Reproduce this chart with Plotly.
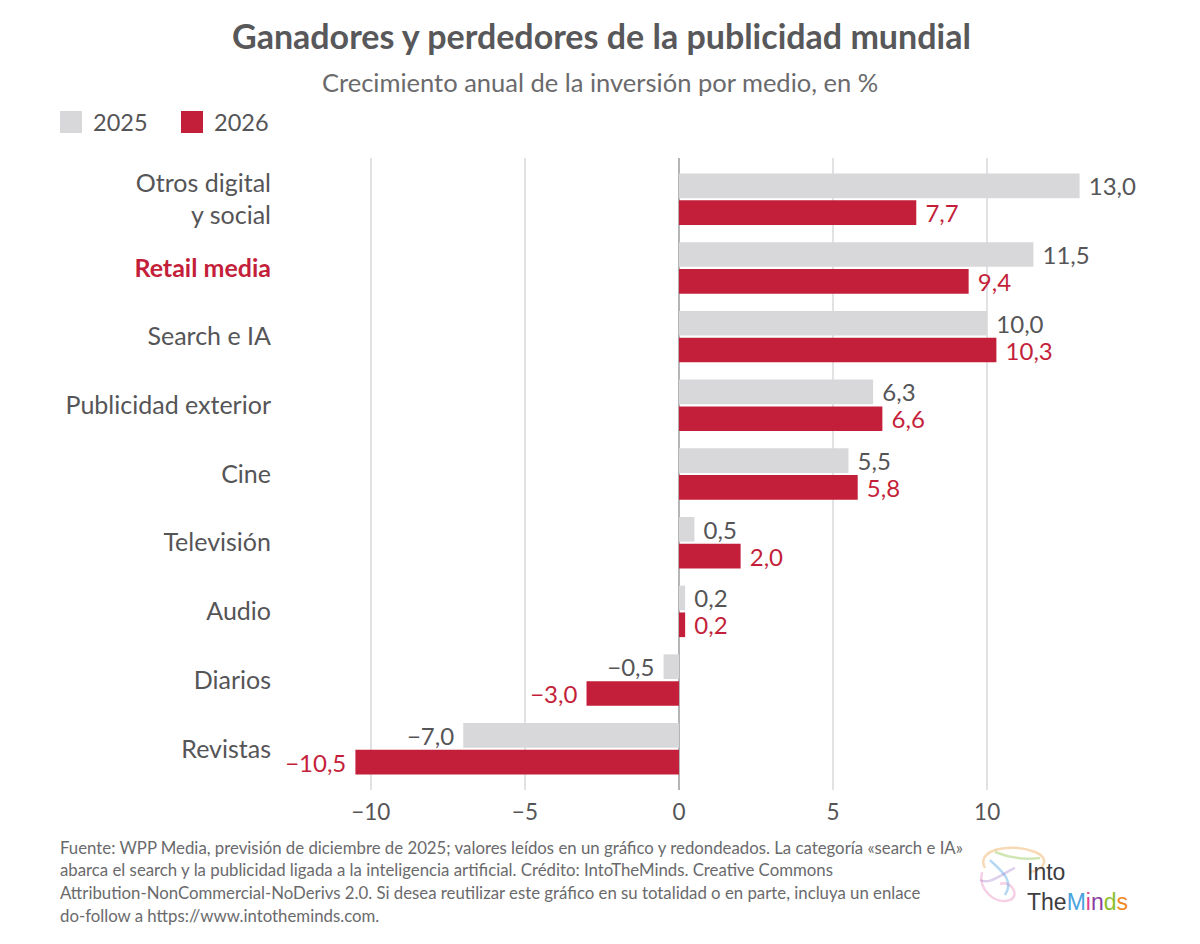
import plotly.graph_objects as go

categories = ["Otros digital<br>y social", "Retail media", "Search e IA", "Publicidad exterior",
              "Cine", "Televisión", "Audio", "Diarios", "Revistas"]
values_2025 = [13.0, 11.5, 10.0, 6.3, 5.5, 0.5, 0.2, -0.5, -7.0]
values_2026 = [7.7, 9.4, 10.3, 6.6, 5.8, 2.0, 0.2, -3.0, -10.5]
tick_vals = [-10, -5, 0, 5, 10]

RED = "#c41f3a"
GRAY_BAR = "#d8d7da"
TXT = "#555557"
FONT = "Lato"

# plot area in reference pixels (page is drawn with an 8px offset)
L, R, T, B = 340, 1095, 158, 790
W, H = R - L, B - T


def px(x):
    return (x - L) / W


def py(y):
    return (B - y) / H


def fmt(v):
    s = f"{v:.1f}".replace(".", ",").replace("-", "\u2212")
    return "\u00a0" + s if v >= 0 else s + "\u00a0"


# highlight retail media in red bold
cat_labels = [f"<b><span style='color:{RED}'>{c}</span></b>" if c == "Retail media" else c
              for c in categories]

fig = go.Figure()
fig.add_trace(go.Bar(
    y=cat_labels, x=values_2025, name="2025", orientation="h",
    marker=dict(color=GRAY_BAR, line=dict(width=0)),
    text=[fmt(v) for v in values_2025], textposition="outside", constraintext="none",
    textfont=dict(color=TXT, size=24, family=FONT), cliponaxis=False,
))
fig.add_trace(go.Bar(
    y=cat_labels, x=values_2026, name="2026", orientation="h",
    marker=dict(color=RED, line=dict(width=0)),
    text=[fmt(v) for v in values_2026], textposition="outside", constraintext="none",
    textfont=dict(color=RED, size=24, family=FONT), cliponaxis=False,
))

fig.update_layout(
    width=1200, height=944,
    paper_bgcolor="white", plot_bgcolor="white",
    font=dict(family=FONT, color=TXT),
    barmode="group", bargap=0.22, bargroupgap=0.08,
    margin=dict(l=L - 8, r=1200 - R + 8, t=T - 8, b=944 - B + 8),
    showlegend=False,
    xaxis=dict(range=[-11, 13.5], tickvals=tick_vals,
               ticktext=[str(t).replace("-", "\u2212") for t in tick_vals],
               showgrid=True, gridcolor="#e2e1e3", gridwidth=1.5,
               zeroline=True, zerolinecolor="#b5b4b7", zerolinewidth=1.5,
               tickfont=dict(size=22.5, color=TXT), ticks="", ticklabelstandoff=6),
    yaxis=dict(range=[8.6, -0.6], showgrid=False, ticks="",
               tickfont=dict(size=25, color=TXT), ticklabelstandoff=68),
)

# title / subtitle
fig.add_annotation(text="<b>Ganadores y perdedores de la publicidad mundial</b>",
                   xref="paper", yref="paper", x=px(601), y=py(35),
                   xanchor="center", yanchor="middle", showarrow=False,
                   font=dict(size=34, color="#58585a"))
fig.add_annotation(text="Crecimiento anual de la inversión por medio, en %",
                   xref="paper", yref="paper", x=px(600), y=py(82),
                   xanchor="center", yanchor="middle", showarrow=False,
                   font=dict(size=25.5, color="#6a6a6c"))

# legend drawn by hand (bigger swatches than plotly's)
for name, color, x0 in [("2025", GRAY_BAR, 60), ("2026", RED, 181)]:
    fig.add_shape(type="rect", xref="paper", yref="paper",
                  x0=px(x0), x1=px(x0 + 22), y0=py(133), y1=py(111),
                  fillcolor=color, line=dict(width=0))
    fig.add_annotation(text=name, xref="paper", yref="paper", x=px(x0 + 31), y=py(122),
                       xanchor="left", yanchor="middle", showarrow=False,
                       font=dict(size=23.5, color=TXT))

footer = [
    "Fuente: WPP Media, previsión de diciembre de 2025; valores leídos en un gráfico y redondeados. La categoría «search e IA»",
    "abarca el search y la publicidad ligada a la inteligencia artificial. Crédito: IntoTheMinds. Creative Commons",
    "Attribution-NonCommercial-NoDerivs 2.0. Si desea reutilizar este gráfico en su totalidad o en parte, incluya un enlace",
    "do-follow a https://www.intotheminds.com.",
]
for i, line in enumerate(footer):
    fig.add_annotation(text=line, xref="paper", yref="paper",
                       x=px(58), y=py(847 + i * 22.7),
                       xanchor="left", yanchor="middle", showarrow=False,
                       font=dict(size=16.8, color="#6a6a6c"))

# logo: pastel brain strokes + wordmark
brain = [
    ("M 985 868 C 975 850, 1010 842, 1035 852 C 1050 858, 1045 870, 1030 872", "rgba(240,170,90,0.45)"),
    ("M 982 872 C 978 890, 995 905, 1010 900 C 1020 896, 1012 880, 1000 884", "rgba(230,120,180,0.35)"),
    ("M 990 860 C 1000 870, 1015 880, 1005 895", "rgba(90,170,230,0.45)"),
    ("M 995 852 C 1010 858, 1025 860, 1040 858", "rgba(150,200,90,0.45)"),
    ("M 980 880 C 990 885, 1000 875, 1015 868", "rgba(160,120,200,0.35)"),
]
for path, col in brain:
    # convert pixel path to paper coordinates
    conv = []
    nums = []
    for tok in path.replace(",", " ").split():
        if tok.isalpha():
            conv.append(tok)
        else:
            nums.append(float(tok))
            if len(nums) == 2:
                conv.append(f"{px(nums[0]):.4f},{py(nums[1]):.4f}")
                nums = []
    fig.add_shape(type="path", xref="paper", yref="paper", path=" ".join(conv),
                  line=dict(color=col, width=2.5))

fig.add_annotation(
    text="Into<br>The<span style='color:#4aa3df'>M</span><span style='color:#e0418e'>i</span>"
         "<span style='color:#8a3fa0'>n</span><span style='color:#8cbf2e'>d</span>"
         "<span style='color:#f08a24'>s</span>",
    xref="paper", yref="paper", x=px(1025), y=py(887),
    xanchor="left", yanchor="middle", align="left", showarrow=False,
    font=dict(size=23, color="#3d3d3f", family="Liberation Sans"))

fig.write_html("out.html")
